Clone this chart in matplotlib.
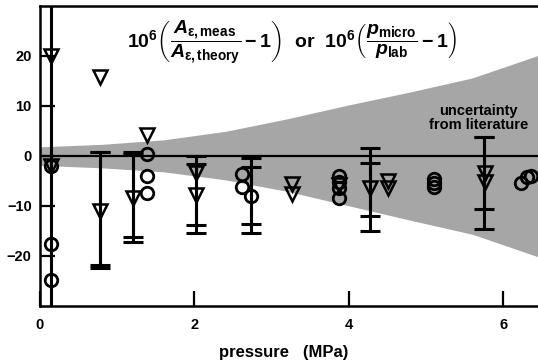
"""Relative deviation of measured acoustic resonance vs. pressure.

Triangles and circles are the two measurement series, the bars are their
uncertainties and the grey band is the uncertainty quoted in the literature.
"""

import matplotlib
matplotlib.use("Agg")
import matplotlib.pyplot as plt

plt.rcParams["font.family"] = ["Liberation Sans", "DejaVu Sans"]
plt.rcParams["font.weight"] = "bold"
plt.rcParams["mathtext.fontset"] = "custom"
plt.rcParams["mathtext.rm"] = "Liberation Sans:bold"
plt.rcParams["mathtext.it"] = "Liberation Sans:bold:italic"
plt.rcParams["mathtext.bf"] = "Liberation Sans:bold"

# literature uncertainty band (ppm)
band_p = [0.0, 0.8, 1.6, 2.4, 3.2, 4.0, 4.8, 5.6, 6.45]
band_hi = [1.8, 2.3, 3.2, 4.9, 7.4, 10.2, 12.8, 15.6, 20.1]
band_lo = [-1.9, -2.4, -3.2, -4.8, -7.1, -10.0, -12.9, -15.7, -20.2]

# triangles
tri_p = [0.14, 0.14, 0.78, 0.78, 1.20, 1.38, 2.02, 2.02, 3.27, 3.27,
         3.87, 4.27, 4.51, 4.51, 5.76, 5.76]
tri_v = [20.0, -2.0, 15.8, -11.0, -8.4, 4.1, -3.5, -7.9, -5.6, -7.6,
         -5.8, -6.5, -5.1, -6.5, -3.5, -5.2]

# circles
circ_p = [0.14, 0.14, 0.14, 1.38, 1.38, 1.38, 2.61, 2.61, 2.73,
          3.87, 3.87, 3.87, 3.87, 5.10, 5.10, 5.10, 6.23, 6.31, 6.36]
circ_v = [-2.0, -17.7, -24.9, 0.3, -4.0, -7.4, -3.7, -6.2, -8.0,
          -4.1, -5.2, -6.4, -8.5, -4.6, -5.4, -6.3, -5.5, -4.3, -4.0]

# error bars: outer and inner limits at each pressure
bar_p = [0.78, 1.20, 2.02, 2.73, 4.28, 5.75]
outer_top = [0.7, 0.7, -0.1, -0.4, 1.5, 3.8]
outer_bot = [-22.5, -17.3, -15.5, -15.4, -15.0, -14.7]
inner_top = [0.7, 0.3, -1.7, -2.3, -1.4, 3.8]
inner_bot = [-21.9, -16.3, -13.9, -13.7, -12.0, -10.7]

# one bar runs off the chart at the lowest pressure
long_bar_p = 0.14

x_ticks = [0, 2, 4, 6]
y_ticks = [-20, -10, 0, 10, 20]

FORMULA = (r"$10^6\left(\dfrac{A_{\mathrm{ε,meas}}}{A_{\mathrm{ε,theory}}}-1\right)$"
           r"  or  "
           r"$10^6\left(\dfrac{p_{\mathrm{micro}}}{p_{\mathrm{lab}}}-1\right)$")


def draw_bars(ax, x, top, bot):
    mid = [(t + b) / 2 for t, b in zip(top, bot)]
    err = [[m - b for m, b in zip(mid, bot)], [t - m for t, m in zip(top, mid)]]
    ax.errorbar(x, mid, yerr=err, fmt="none", ecolor="black",
                elinewidth=2.2, capsize=7, capthick=2.2, zorder=3)


fig = plt.figure(figsize=(5.38, 3.62), dpi=100)
ax = fig.add_axes([0.0743, 0.1555, 0.9257, 0.828])

ax.fill_between(band_p, band_lo, band_hi, color="#a6a6a6", lw=0, zorder=1)
ax.axhline(0, color="black", lw=1.6, zorder=2)
ax.axvline(long_bar_p, color="black", lw=2.2, zorder=3)

draw_bars(ax, bar_p, outer_top, outer_bot)
draw_bars(ax, bar_p, inner_top, inner_bot)

ax.plot(tri_p, tri_v, "v", ms=10, mfc="none", mec="black", mew=1.8, zorder=4)
ax.plot(circ_p, circ_v, "o", ms=9, mfc="none", mec="black", mew=2.0, zorder=4)

ax.text(0.506, 0.88, FORMULA, transform=ax.transAxes, ha="center", va="center",
        fontsize=14, fontweight="bold")
ax.text(0.88, 0.626, "uncertainty\nfrom literature", transform=ax.transAxes,
        ha="center", va="center", fontsize=10.5, fontweight="bold",
        linespacing=1.05)

ax.set_xlim(0, 6.45)
ax.set_ylim(-30, 30)
ax.set_xticks(x_ticks)
ax.set_yticks(y_ticks)
ax.tick_params(direction="in", length=11, width=1.6, labelsize=10.5, top=False, right=False)
ax.tick_params(axis="x", pad=9)
ax.tick_params(axis="y", pad=6)
ax.spines["right"].set_visible(False)
for side in ["left", "top", "bottom"]:
    ax.spines[side].set_linewidth(1.8)

ax.set_xlabel("pressure   (MPa)", fontsize=12, fontweight="bold", labelpad=4)
ax.xaxis.set_label_coords(0.49, -0.13)

fig.savefig("out.png", dpi=100)
